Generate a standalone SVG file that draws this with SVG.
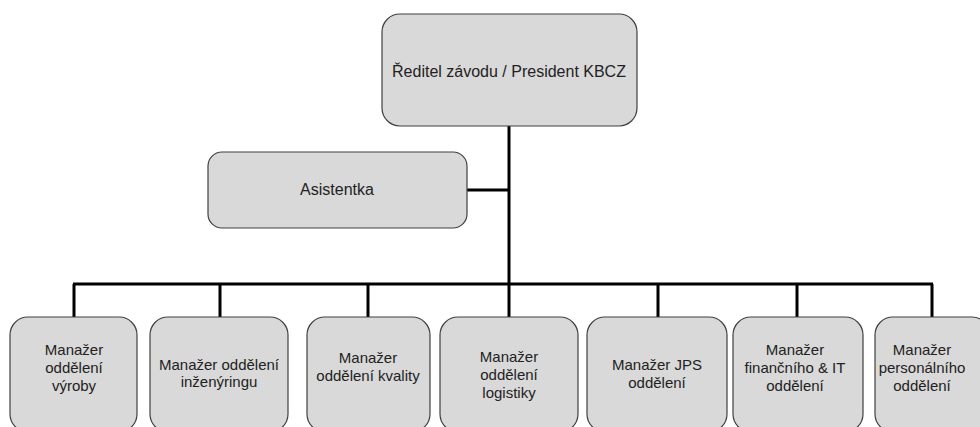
<svg xmlns="http://www.w3.org/2000/svg" width="980" height="427" viewBox="0 0 980 427">
<style>
.box{fill:#d9d9d9;stroke:#404040;stroke-width:1.2}
.t{font-family:"Liberation Sans",Arial,sans-serif;font-size:15px;fill:#222;text-anchor:middle}
.big{font-size:16px}
.c{stroke:#000;stroke-width:3;fill:none}
</style>
<rect width="980" height="427" fill="#fff"/>
<g id="connectors">
<path class="c" d="M509 126V284M467 190H509M73 284H933M74 284V317M220 284V317M368 284V317M509 284V317M658 284V317M797 284V317M932 284V317"/>
</g>
<g id="director"><rect class="box" x="382" y="14" width="255" height="112" rx="18"/><text class="t big" x="509" y="77">Ředitel závodu / President KBCZ</text></g>
<g id="assistant"><rect class="box" x="208" y="152" width="259" height="76" rx="14"/><text class="t big" x="337" y="195">Asistentka</text></g>
<g id="m1"><rect class="box" x="10" y="317" width="127" height="115" rx="18"/><text class="t" x="74" y="355">Manažer</text><text class="t" x="74" y="373">oddělení</text><text class="t" x="74" y="391">výroby</text></g>
<g id="m2"><rect class="box" x="150" y="317" width="138" height="115" rx="18"/><text class="t" x="219" y="370">Manažer oddělení</text><text class="t" x="219" y="387">inženýringu</text></g>
<g id="m3"><rect class="box" x="307" y="317" width="123" height="115" rx="18"/><text class="t" x="368" y="363">Manažer</text><text class="t" x="368" y="381">oddělení kvality</text></g>
<g id="m4"><rect class="box" x="440" y="317" width="138" height="115" rx="18"/><text class="t" x="509" y="362">Manažer</text><text class="t" x="509" y="380">oddělení</text><text class="t" x="509" y="398">logistiky</text></g>
<g id="m5"><rect class="box" x="587" y="317" width="140" height="115" rx="18"/><text class="t" x="657" y="370">Manažer JPS</text><text class="t" x="657" y="388">oddělení</text></g>
<g id="m6"><rect class="box" x="733" y="317" width="130" height="115" rx="18"/><text class="t" x="795" y="355">Manažer</text><text class="t" x="795" y="373">finančního &amp; IT</text><text class="t" x="795" y="391">oddělení</text></g>
<g id="m7"><rect class="box" x="875" y="317" width="115" height="115" rx="18"/><text class="t" x="922" y="355">Manažer</text><text class="t" x="922" y="373">personálního</text><text class="t" x="922" y="391">oddělení</text></g>
</svg>
